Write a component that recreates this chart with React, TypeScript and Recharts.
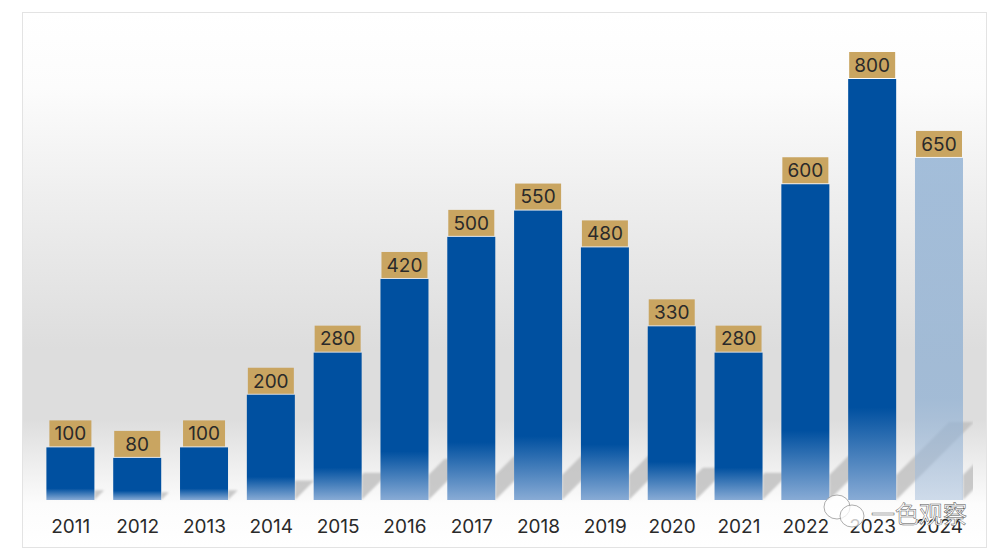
import { BarChart, Bar, XAxis, YAxis, LabelList } from "recharts";

const years = ["2011", "2012", "2013", "2014", "2015", "2016", "2017", "2018", "2019", "2020", "2021", "2022", "2023", "2024"];
const values = [100, 80, 100, 200, 280, 420, 500, 550, 480, 330, 280, 600, 800, 650];
const lightYears = ["2024"];

const data = years.map((year, i) => ({ year, value: values[i] }));

const FONT = "Inter, 'Noto Sans', sans-serif";
const SHADOW_RATIO = 0.185;
const SHADOW_BAND = 25;

// bar + its slanted floor shadow, shadow is painted first so the next bar covers it
function BarWithShadow(props: any) {
  const { x, y, width, height, payload } = props;
  const bottom = y + height;
  const right = x + width;
  const rise = height * SHADOW_RATIO;
  const band = Math.min(SHADOW_BAND, rise);
  const shadow = [
    [right, bottom],
    [right + rise, bottom - rise],
    [right + rise - band, bottom - rise],
    [right, bottom - band],
  ].map((p) => p.join(",")).join(" ");
  const fill = lightYears.includes(payload.year) ? "url(#barLight)" : "url(#barBlue)";
  return (
    <g>
      <g clipPath="url(#plotClip)">
        <polygon points={shadow} fill="#bdbdbd" fillOpacity={0.8} filter="url(#soft)" />
      </g>
      <rect x={x} y={y} width={width} height={height} fill={fill} />
    </g>
  );
}

function ValueBox(props: any) {
  const { x, y, width, value } = props;
  const boxW = value === 100 ? 42 : 46;
  const boxH = 26;
  const cx = x + width / 2;
  return (
    <g>
      <rect x={cx - boxW / 2} y={y - boxH - 1} width={boxW} height={boxH} fill="#c9a561" />
      <text x={cx} y={y - boxH / 2 - 1} dy="0.36em" textAnchor="middle" fontSize={19} fontFamily={FONT} fill="#2a2a2a">
        {value}
      </text>
    </g>
  );
}

export default function App() {
  return (
    <div style={{ position: "absolute", left: 0, top: 0, width: 999, height: 556, background: "#fff", overflow: "hidden" }}>
      {/* panel */}
      <div
        style={{
          position: "absolute",
          left: 22,
          top: 12,
          width: 963,
          height: 534,
          border: "1px solid #e3e3e3",
          background:
            "linear-gradient(to bottom, #ffffff 0%, #fcfcfc 14%, #eeeeee 35%, #dddddd 63%, #dddddd 76%, #efefef 85%, #fcfcfc 92%, #ffffff 100%)",
        }}
      />
      <div style={{ position: "absolute", left: 0, top: 0 }}>
        <BarChart width={999} height={556} data={data} margin={{ top: 79, right: 26.2, bottom: 0, left: 37.4 }} barCategoryGap={0}>
          <defs>
            <linearGradient id="barBlue" x1="0" y1="0" x2="0" y2="1">
              <stop offset="0" stopColor="#0050a0" />
              <stop offset="0.78" stopColor="#0050a0" />
              <stop offset="1" stopColor="#88abd5" />
            </linearGradient>
            <linearGradient id="barLight" x1="0" y1="0" x2="0" y2="1">
              <stop offset="0" stopColor="#8fb0d3" stopOpacity={0.8} />
              <stop offset="0.7" stopColor="#8fb0d3" stopOpacity={0.75} />
              <stop offset="1" stopColor="#a9c0dc" stopOpacity={0.55} />
            </linearGradient>
            <clipPath id="plotClip">
              <rect x={0} y={0} width={973} height={556} />
            </clipPath>
            <filter id="soft" x="-20%" y="-20%" width="140%" height="140%">
              <feGaussianBlur stdDeviation={0.8} />
            </filter>
          </defs>
          <XAxis
            dataKey="year"
            height={56}
            axisLine={false}
            tickLine={false}
            interval={0}
            tickMargin={14}
            tick={{ fontSize: 19, fontFamily: FONT, fill: "#2a2a2a" }}
          />
          <YAxis hide domain={[0, 800]} />
          <Bar dataKey="value" barSize={48} shape={BarWithShadow} isAnimationActive={false}>
            <LabelList dataKey="value" content={ValueBox} />
          </Bar>
        </BarChart>
      </div>
      {/* watermark */}
      <svg width={999} height={556} style={{ position: "absolute", left: 0, top: 0, pointerEvents: "none" }}>
        <ellipse cx={837} cy={507} rx={13} ry={12} fill="#ffffff" fillOpacity={0.75} stroke="#8a8a8a" strokeWidth={0.7} />
        <ellipse cx={852} cy={516} rx={12} ry={11} fill="#ffffff" fillOpacity={0.75} stroke="#8a8a8a" strokeWidth={0.7} />
        <text
          x={871}
          y={523}
          fontSize={24}
          fontFamily="'Noto Sans CJK SC', sans-serif"
          fill="#ffffff"
          stroke="#555555"
          strokeWidth={0.5}
        >
          一色观察
        </text>
      </svg>
    </div>
  );
}
